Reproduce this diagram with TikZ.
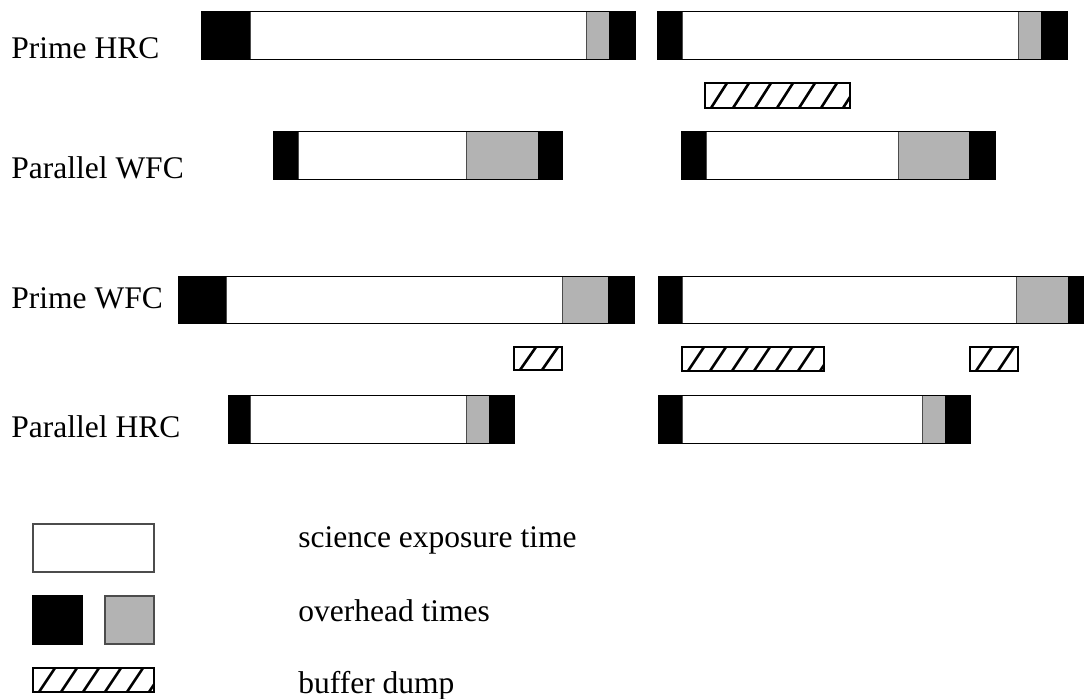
\documentclass[tikz,border=0pt]{standalone}
\usepackage{fontspec}
\setmainfont{Liberation Serif}
\usetikzlibrary{positioning}
\definecolor{OverGray}{RGB}{179, 179, 179}

% one exposure bar: black | white | gray | black
\newcommand{\expbar}[7]{%
  \fill[black] (#3,#1) rectangle (#4,#2);
  \filldraw[fill=white, draw=black!70, line width=0.5pt] (#4,#1) rectangle (#5,#2);
  \filldraw[fill=OverGray, draw=black!70, line width=0.5pt] (#5,#1) rectangle (#6,#2);
  \fill[black] (#6,#1) rectangle (#7,#2);
  \draw[black, line width=0.5pt] (#3,#1) rectangle (#7,#2);
}
% buffer dump box with hatching
\newcommand{\dumpbox}[4]{%
  \begin{scope}
    \clip (#1,#2) rectangle (#3,#4);
    \foreach \k in {0,...,8}
      \draw[line width=1.3pt] ({#1-16+22*\k},#4) -- ({#1+\k*22},#2);
  \end{scope}
  \draw[black, line width=0.6pt] (#1,#2) rectangle (#3,#4);
}

\begin{document}
\begin{tikzpicture}[x=0.5pt, y=-0.5pt, font=\fontsize{15.75pt}{18pt}\selectfont,
    lbl/.style={anchor=base west, inner sep=0pt}]
    \useasboundingbox (0,0) rectangle (1084,698);

    % --- Prime HRC / Parallel WFC ---
    \node[lbl] (pHRC) at (11,58) {Prime HRC};
    \expbar{11}{59}{201}{250}{586}{609}{635}
    \expbar{11}{59}{657}{682}{1018}{1041}{1067}
    \dumpbox{705}{83}{850}{108}

    \node[lbl] (parWFC) at (11,178) {Parallel WFC};
    \expbar{131}{179}{273}{298}{466}{538}{562}
    \expbar{131}{179}{681}{706}{898}{969}{995}

    % --- Prime WFC / Parallel HRC ---
    \node[lbl] (pWFC) at (11,308) {Prime WFC};
    \expbar{276}{323}{178}{226}{562}{608}{634}
    \expbar{276}{323}{658}{682}{1016}{1068}{1090}
    \dumpbox{514}{347}{562}{370}
    \dumpbox{682}{347}{824}{371}
    \dumpbox{970}{347}{1018}{371}

    \node[lbl] (parHRC) at (11,437) {Parallel HRC};
    \expbar{395}{443}{228}{250}{466}{489}{514}
    \expbar{395}{443}{658}{682}{922}{945}{970}

    % --- Legend ---
    \filldraw[fill=white, draw=black!70, line width=0.6pt] (33,524) rectangle (154,572);
    \filldraw[fill=black, draw=black, line width=0.6pt] (33,596) rectangle (82,644);
    \filldraw[fill=OverGray, draw=black!70, line width=0.6pt] (105,596) rectangle (154,644);
    \dumpbox{33}{668}{154}{692}
    \node[lbl] (lsci) at (298,547) {science exposure time};
    \node[lbl] (lover) at (298,621) {overhead times};
    \node[lbl] (lbuf) at (298,693) {buffer dump};
\end{tikzpicture}
\end{document}
